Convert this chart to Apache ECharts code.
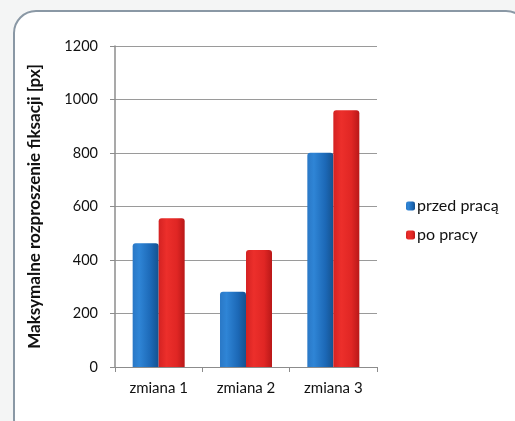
<!DOCTYPE html>
<html><head><meta charset="utf-8">
<script src="https://cdn.jsdelivr.net/npm/echarts@6/dist/echarts.min.js"></script>
<style>html,body{margin:0;padding:0;background:#f4f5f5;}#c{width:515px;height:421px;}</style>
</head><body><div id="c"></div>
<script>
var categories = ['zmiana 1', 'zmiana 2', 'zmiana 3'];
var seriesNames = ['przed pracą', 'po pracy'];
var beforeWork = [463, 281, 801];
var afterWork = [556, 437, 960];
var yTicks = [0, 200, 400, 600, 800, 1000, 1200];
var yTitle = 'Maksymalne rozproszenie fiksacji [px]';

var FONT = 'Lato, "Open Sans", sans-serif';
var blueGrad = new echarts.graphic.LinearGradient(0, 0, 1, 0, [
  {offset: 0, color: '#2a78c6'}, {offset: 0.25, color: '#2f85d6'},
  {offset: 0.7, color: '#1c68b6'}, {offset: 1, color: '#15528f'}]);
var redGrad = new echarts.graphic.LinearGradient(0, 0, 1, 0, [
  {offset: 0, color: '#d42222'}, {offset: 0.3, color: '#ec2f2b'},
  {offset: 0.7, color: '#e02624'}, {offset: 1, color: '#b91818'}]);

var chart = echarts.init(document.getElementById('c'), null, {renderer: 'canvas'});
chart.setOption({
  backgroundColor: '#f4f5f5',
  animation: false,
  graphic: [{
    type: 'rect', z: -10, silent: true,
    shape: {x: 14, y: 11, width: 514, height: 430, r: 22},
    style: {fill: '#ffffff', stroke: '#8a98a5', lineWidth: 2}
  }],
  grid: {left: 115, right: 138, top: 46, bottom: 54, containLabel: false},
  legend: {
    orient: 'vertical', left: 401, top: 193,
    itemWidth: 9, itemHeight: 9, itemGap: 13,
    textStyle: {fontFamily: FONT, fontSize: 16, color: '#111', padding: [0, 0, 0, -3]},
    data: seriesNames
  },
  xAxis: {
    type: 'category', data: categories,
    axisLine: {lineStyle: {color: '#8c8c8c', width: 1}},
    axisTick: {show: true, length: 5, lineStyle: {color: '#8c8c8c'}},
    axisLabel: {fontFamily: FONT, fontSize: 15, color: '#111', margin: 14}
  },
  yAxis: {
    type: 'value', min: 0, max: 1200, interval: 200,
    name: yTitle, nameLocation: 'middle', nameGap: 72,
    nameTextStyle: {fontFamily: FONT, fontSize: 17, fontWeight: 'bold', color: '#111'},
    axisLine: {show: true, lineStyle: {color: '#8c8c8c', width: 1.5}},
    axisTick: {show: true, length: 5, lineStyle: {color: '#8c8c8c'}},
    axisLabel: {fontFamily: FONT, fontSize: 14.5, color: '#111', margin: 17,
      formatter: function (v) { return yTicks.indexOf(v) >= 0 ? String(v) : ''; }},
    splitLine: {lineStyle: {color: '#9a9a9a', width: 1}}
  },
  series: [
    {name: seriesNames[0], type: 'bar', data: beforeWork, barWidth: 26, barGap: '0%',
      itemStyle: {color: blueGrad, borderRadius: [3, 3, 0, 0]}},
    {name: seriesNames[1], type: 'bar', data: afterWork, barWidth: 26,
      itemStyle: {color: redGrad, borderRadius: [3, 3, 0, 0]}}
  ]
});
</script></body></html>
